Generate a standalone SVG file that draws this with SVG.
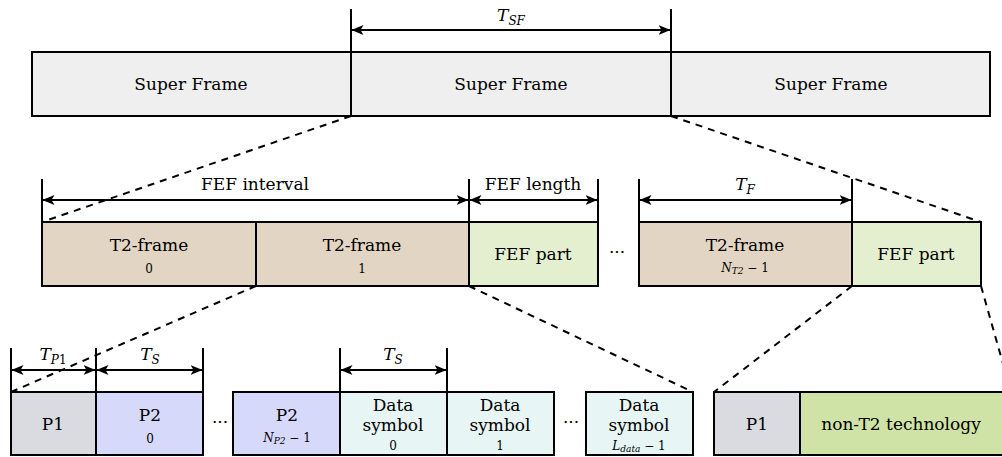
<svg xmlns="http://www.w3.org/2000/svg" width="1002" height="457" viewBox="0 0 1002 457">
  <defs>
    <marker id="ah" viewBox="0 0 12 10" refX="11.5" refY="5" markerWidth="12" markerHeight="10" markerUnits="userSpaceOnUse" orient="auto-start-reverse">
      <path d="M0,0 L12,5 L0,10 L3,5 Z" fill="#000"/>
    </marker>
    <style>
      .box { stroke: #000; stroke-width: 2; }
      .sf { fill: #efefef; }
      .t2 { fill: #e3d5c4; }
      .fef { fill: #e3efce; }
      .p1 { fill: #d9dbe0; }
      .p2 { fill: #d7d9fb; }
      .ds { fill: #e8f5f5; }
      .nt { fill: #cfe3a6; }
      .tick { stroke: #000; stroke-width: 2; fill: none; }
      .dim { stroke: #000; stroke-width: 2; fill: none; marker-start: url(#ah); marker-end: url(#ah); }
      .dash { stroke: #000; stroke-width: 2; fill: none; stroke-dasharray: 7 6; }
      text { font-family: "DejaVu Serif", "Liberation Serif", serif; fill: #000; text-anchor: middle; }
      .lbl { font-size: 17px; }
      .sub { font-size: 12px; }
      .ss { font-size: 9px; }
      .mi { font-style: italic; }
    </style>
  </defs>

  <!-- connectors: zoom-in guides -->
  <g id="connectors">
    <line class="dash" x1="351" y1="116" x2="42" y2="222"/>
    <line class="dash" x1="671" y1="116" x2="981" y2="222"/>
    <line class="dash" x1="256" y1="286" x2="11" y2="392"/>
    <line class="dash" x1="469" y1="286" x2="693" y2="392"/>
    <line class="dash" x1="852" y1="286" x2="714" y2="392"/>
    <line class="dash" x1="981" y1="286" x2="1011" y2="392"/>
  </g>

  <!-- row 1: super frames -->
  <g id="superframe-1">
    <rect class="box sf" x="32" y="52" width="319" height="64"/>
    <text class="lbl" x="191" y="90">Super Frame</text>
  </g>
  <g id="superframe-2">
    <rect class="box sf" x="351" y="52" width="320" height="64"/>
    <text class="lbl" x="511" y="90">Super Frame</text>
  </g>
  <g id="superframe-3">
    <rect class="box sf" x="671" y="52" width="319" height="64"/>
    <text class="lbl" x="831" y="90">Super Frame</text>
  </g>
  <g id="dim-tsf">
    <line class="tick" x1="351" y1="9" x2="351" y2="116"/>
    <line class="tick" x1="671" y1="9" x2="671" y2="116"/>
    <line class="dim" x1="352" y1="30" x2="670" y2="30"/>
    <text class="lbl" x="511" y="21"><tspan class="mi">T</tspan><tspan class="sub mi" dy="4">SF</tspan></text>
  </g>

  <!-- row 2: frames -->
  <g id="t2frame-0">
    <rect class="box t2" x="42" y="222" width="214" height="64"/>
    <text class="lbl" x="149" y="251">T2-frame</text>
    <text class="sub" x="149" y="273">0</text>
  </g>
  <g id="t2frame-1">
    <rect class="box t2" x="256" y="222" width="213" height="64"/>
    <text class="lbl" x="362" y="251">T2-frame</text>
    <text class="sub" x="362" y="273">1</text>
  </g>
  <g id="fef-part-1">
    <rect class="box fef" x="469" y="222" width="129" height="64"/>
    <text class="lbl" x="533" y="260">FEF part</text>
  </g>
  <g id="dots-frames">
    <text class="lbl" x="617" y="258">···</text>
  </g>
  <g id="t2frame-n">
    <rect class="box t2" x="639" y="222" width="213" height="64"/>
    <text class="lbl" x="745" y="251">T2-frame</text>
    <text class="sub" x="745" y="272"><tspan class="mi">N</tspan><tspan class="ss mi" dy="2">T2</tspan><tspan dy="-2"> − 1</tspan></text>
  </g>
  <g id="fef-part-2">
    <rect class="box fef" x="852" y="222" width="129" height="64"/>
    <text class="lbl" x="916" y="260">FEF part</text>
  </g>
  <g id="dim-fef">
    <line class="tick" x1="42" y1="179" x2="42" y2="222"/>
    <line class="tick" x1="469" y1="179" x2="469" y2="222"/>
    <line class="tick" x1="598" y1="179" x2="598" y2="222"/>
    <line class="dim" x1="43" y1="200" x2="468" y2="200"/>
    <line class="dim" x1="470" y1="200" x2="597" y2="200"/>
    <text class="lbl" x="255" y="190">FEF interval</text>
    <text class="lbl" x="533" y="190">FEF length</text>
  </g>
  <g id="dim-tf">
    <line class="tick" x1="639" y1="179" x2="639" y2="222"/>
    <line class="tick" x1="852" y1="179" x2="852" y2="222"/>
    <line class="dim" x1="640" y1="200" x2="851" y2="200"/>
    <text class="lbl" x="745" y="190"><tspan class="mi">T</tspan><tspan class="sub mi" dy="4">F</tspan></text>
  </g>

  <!-- row 3: symbols of a T2-frame -->
  <g id="p1">
    <rect class="box p1" x="11" y="392" width="85" height="63"/>
    <text class="lbl" x="53" y="430">P1</text>
  </g>
  <g id="p2-0">
    <rect class="box p2" x="96" y="392" width="107" height="63"/>
    <text class="lbl" x="150" y="421">P2</text>
    <text class="sub" x="150" y="443">0</text>
  </g>
  <g id="dots-p2">
    <text class="lbl" x="220" y="428">···</text>
  </g>
  <g id="p2-n">
    <rect class="box p2" x="233" y="392" width="107" height="63"/>
    <text class="lbl" x="287" y="421">P2</text>
    <text class="sub" x="287" y="442"><tspan class="mi">N</tspan><tspan class="ss mi" dy="2">P2</tspan><tspan dy="-2"> − 1</tspan></text>
  </g>
  <g id="data-0">
    <rect class="box ds" x="340" y="392" width="107" height="63"/>
    <text class="lbl" x="393" y="411">Data</text>
    <text class="lbl" x="393" y="431">symbol</text>
    <text class="sub" x="393" y="450">0</text>
  </g>
  <g id="data-1">
    <rect class="box ds" x="447" y="392" width="107" height="63"/>
    <text class="lbl" x="500" y="411">Data</text>
    <text class="lbl" x="500" y="431">symbol</text>
    <text class="sub" x="500" y="450">1</text>
  </g>
  <g id="dots-data">
    <text class="lbl" x="571" y="428">···</text>
  </g>
  <g id="data-l">
    <rect class="box ds" x="586" y="392" width="107" height="63"/>
    <text class="lbl" x="639" y="411">Data</text>
    <text class="lbl" x="639" y="431">symbol</text>
    <text class="sub" x="639" y="450"><tspan class="mi">L</tspan><tspan class="ss mi" dy="2">data</tspan><tspan dy="-2"> − 1</tspan></text>
  </g>
  <g id="dim-p1-p2">
    <line class="tick" x1="11" y1="348" x2="11" y2="392"/>
    <line class="tick" x1="96" y1="348" x2="96" y2="392"/>
    <line class="tick" x1="203" y1="348" x2="203" y2="392"/>
    <line class="dim" x1="12" y1="370" x2="95" y2="370"/>
    <line class="dim" x1="97" y1="370" x2="202" y2="370"/>
    <text class="lbl" x="53" y="360"><tspan class="mi">T</tspan><tspan class="sub mi" dy="4">P</tspan><tspan class="sub">1</tspan></text>
    <text class="lbl" x="150" y="360"><tspan class="mi">T</tspan><tspan class="sub mi" dy="4">S</tspan></text>
  </g>
  <g id="dim-ts">
    <line class="tick" x1="340" y1="348" x2="340" y2="392"/>
    <line class="tick" x1="447" y1="348" x2="447" y2="392"/>
    <line class="dim" x1="341" y1="370" x2="446" y2="370"/>
    <text class="lbl" x="393" y="360"><tspan class="mi">T</tspan><tspan class="sub mi" dy="4">S</tspan></text>
  </g>

  <!-- row 3: FEF part contents -->
  <g id="fef-p1">
    <rect class="box p1" x="714" y="392" width="86" height="63"/>
    <text class="lbl" x="757" y="430">P1</text>
  </g>
  <g id="non-t2">
    <rect class="box nt" x="800" y="392" width="212" height="63"/>
    <text class="lbl" x="901" y="430">non-T2 technology</text>
  </g>
</svg>
